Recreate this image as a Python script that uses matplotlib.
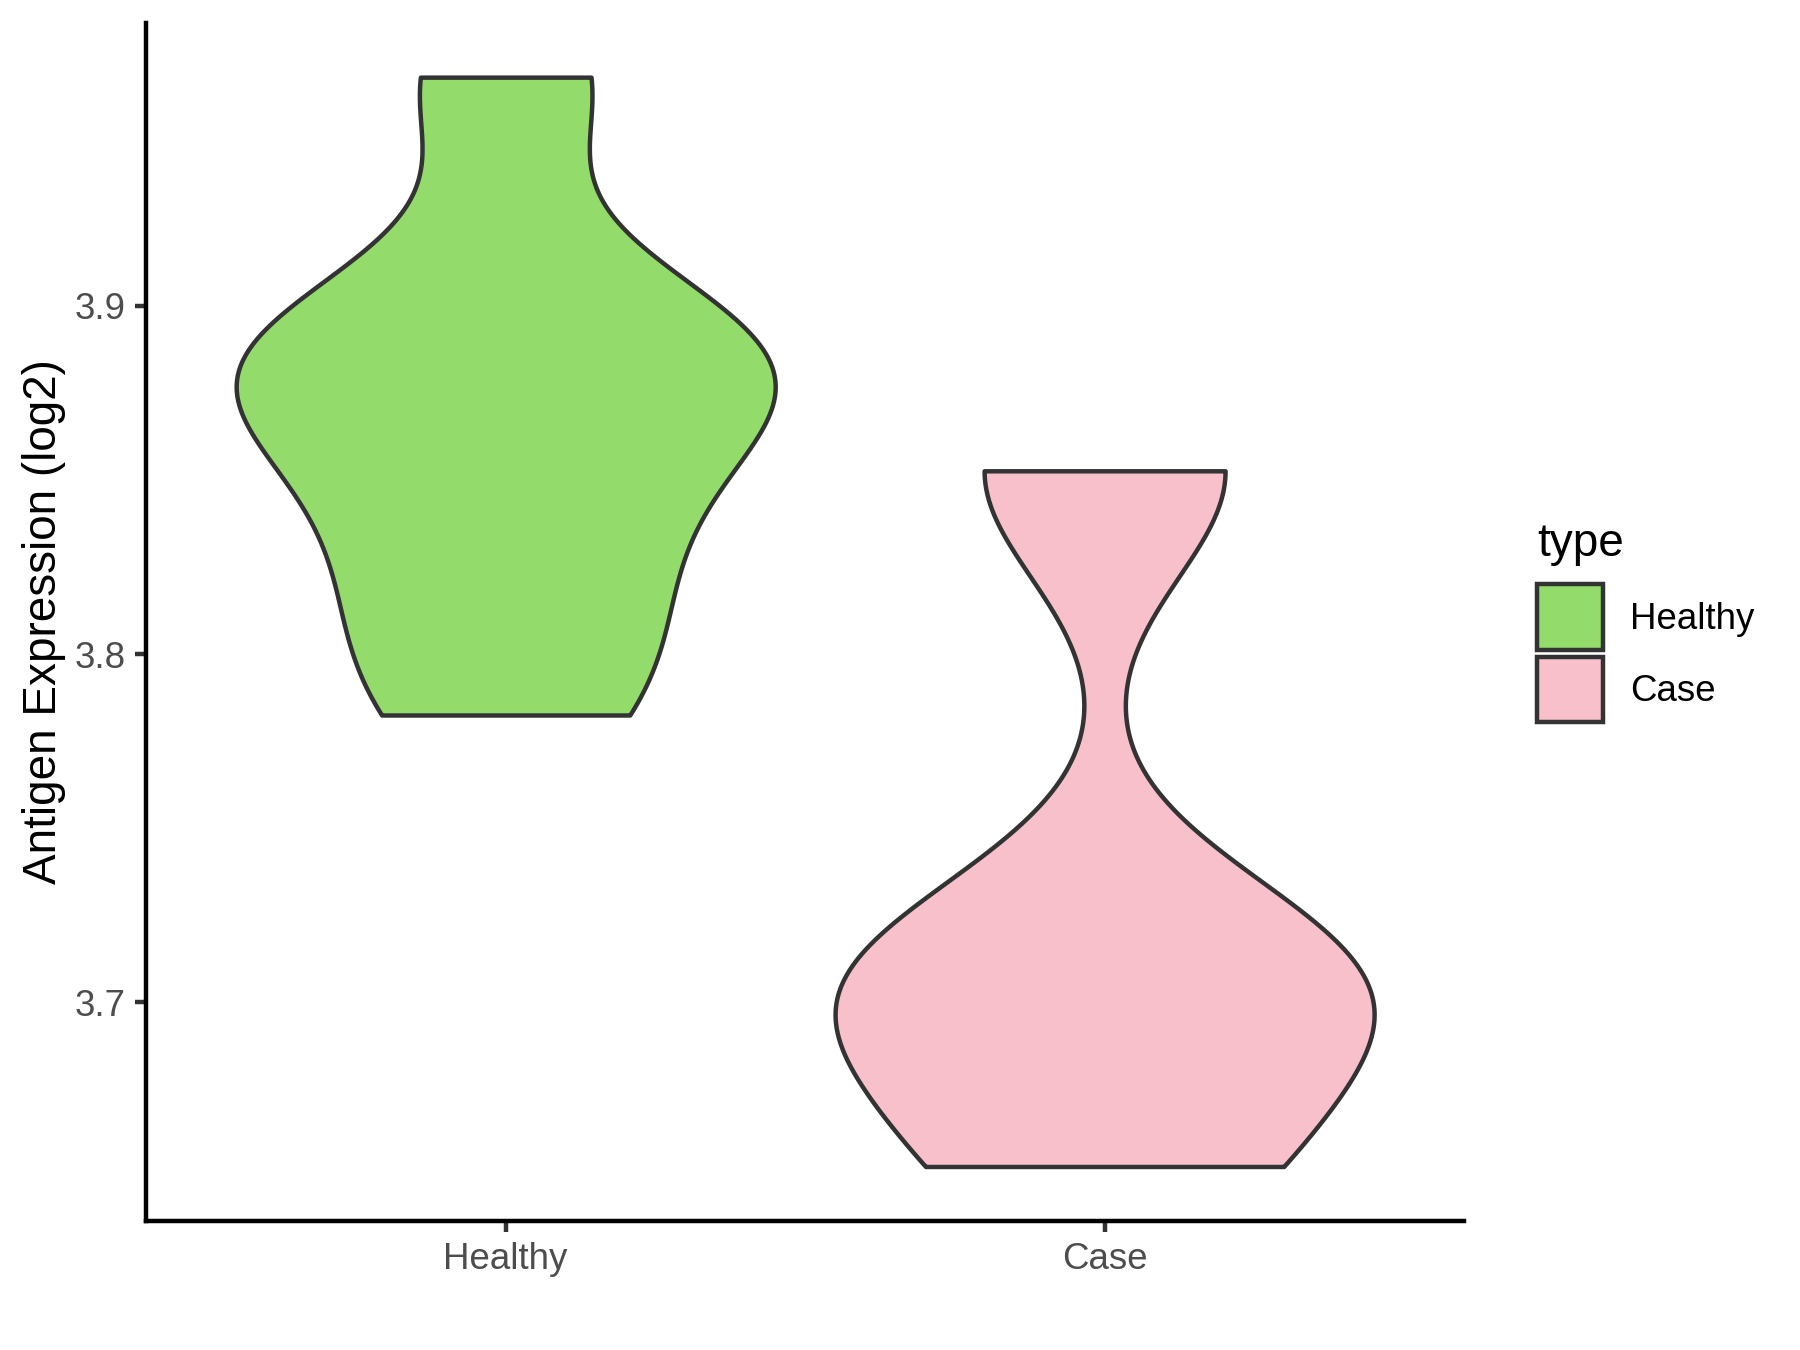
import numpy as np
import matplotlib
matplotlib.use("Agg")
import matplotlib.pyplot as plt
from matplotlib.patches import Patch

plt.rcParams["font.family"] = ["Liberation Sans", "DejaVu Sans"]

# Antigen expression (log2) per sample
groups = ["Healthy", "Case"]
healthy = [3.7825, 3.8147, 3.8473, 3.8785, 3.8790, 3.8984, 3.9656]
case = [3.6529, 3.6985, 3.7126, 3.8526]
colors = ["#93DB6B", "#F7C0CB"]
y_ticks = [3.7, 3.8, 3.9]
y_tick_labels = ["3.7", "3.8", "3.9"]

LW = 1.07          # ggplot linewidth 0.5 in points
OUTLINE = "#333333"


def nrd0_factor(kde):
    """Silverman's rule of thumb (R's bw.nrd0) as a factor of the sample sd."""
    x = np.ravel(kde.dataset)
    sd = np.std(x, ddof=1)
    q75, q25 = np.percentile(x, [75, 25])
    h = 0.9 * min(sd, (q75 - q25) / 1.34) * len(x) ** -0.2
    return h / sd


fig = plt.figure(figsize=(6, 4.5), dpi=300)
ax = fig.add_axes([0.0813, 0.0956, 0.8133 - 0.0813, 0.9832 - 0.0956])

data = [np.array(healthy), np.array(case)]
parts = ax.violinplot(data, positions=[1, 2], widths=0.9, showextrema=False,
                      points=512, bw_method=nrd0_factor)
for body, col in zip(parts["bodies"], colors):
    body.set_facecolor(col)
    body.set_edgecolor(OUTLINE)
    body.set_linewidth(LW)
    body.set_alpha(1)

lo = min(map(min, data))
hi = max(map(max, data))
pad = 0.05 * (hi - lo)
ax.set_ylim(lo - pad, hi + pad)
ax.set_xlim(0.4, 2.6)

ax.set_xticks([1, 2], groups)
ax.set_yticks(y_ticks, y_tick_labels)
ax.tick_params(length=2.75, width=LW, color=OUTLINE, labelcolor="#4D4D4D",
               labelsize=8.8, pad=2.2)
for side in ("top", "right"):
    ax.spines[side].set_visible(False)
for side in ("left", "bottom"):
    ax.spines[side].set_linewidth(LW)
    ax.spines[side].set_color("black")

ax.set_ylabel("Antigen Expression (log2)", fontsize=11, color="black", labelpad=2.1)

handles = [Patch(facecolor=c, edgecolor=OUTLINE, linewidth=LW, label=g)
           for g, c in zip(groups, colors)]
leg = fig.legend(handles=handles, title="type", loc="upper left",
                 bbox_to_anchor=(0.854, 0.613), frameon=False, fontsize=8.8,
                 title_fontsize=11, handlelength=1.8, handleheight=2.39,
                 labelspacing=0.17, handletextpad=0.74, borderpad=0,
                 borderaxespad=0, alignment="left")
# extra room between the legend title and the keys
leg._legend_box.sep = 4.3

fig.savefig("out.png", dpi=300)
